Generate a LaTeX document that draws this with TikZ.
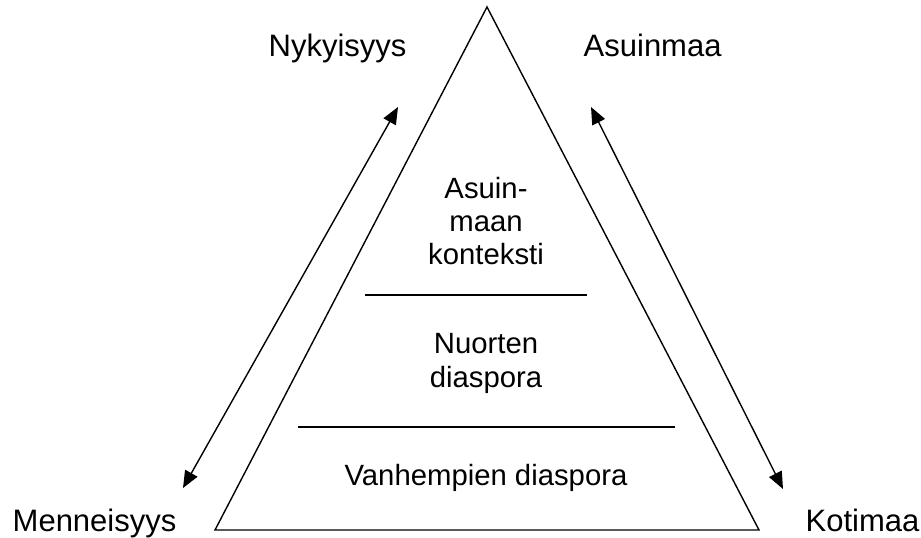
\documentclass[tikz,border=0pt]{standalone}
\usepackage{fontspec}
\setmainfont{Liberation Sans}
\usetikzlibrary{arrows.meta}

\tikzset{
  outer/.style={inner sep=0pt, anchor=base west, font=\fontsize{31}{36}\selectfont},
  inner/.style={inner sep=0pt, align=center, font=\fontsize{29.3}{33}\selectfont},
  both/.style={{Triangle[length=17pt,width=14pt]}-{Triangle[length=17pt,width=14pt]}, line width=1.4pt},
}

\begin{document}
\begin{tikzpicture}[x=1pt,y=-1pt, line width=1.4pt]
    \useasboundingbox (0,0) rectangle (921,538);

    \coordinate (T) at (487,7);
    \coordinate (L) at (215,530);
    \coordinate (R) at (759,530);

    \draw (L) -- (T) -- (R) -- cycle;

    % layers
    \coordinate (u1) at (365,295);
    \coordinate (u2) at (587,295);
    \coordinate (v1) at (298,427);
    \coordinate (v2) at (675,427);
    \draw (u1) -- (u2);
    \draw (v1) -- (v2);

    \node[inner] (top) at (486,221) {Asuin-\\maan\\konteksti};
    \node[inner, font=\fontsize{29.3}{34}\selectfont] (mid) at (486,363) {Nuorten\\diaspora};
    \node[inner, anchor=base] (low) at (486,485) {Vanhempien diaspora};

    % corner labels
    \node[outer] (past) at (12,531) {Menneisyys};
    \node[outer] (now) at (268,56) {Nykyisyys};
    \node[outer] (here) at (583,56) {Asuinmaa};
    \node[outer] (home) at (805,531) {Kotimaa};

    % arrows
    \coordinate (a1) at (183,488);
    \coordinate (a2) at (398,107);
    \coordinate (b1) at (591,107);
    \coordinate (b2) at (783,489);
    \draw[both] (a1) -- (a2);
    \draw[both] (b1) -- (b2);
\end{tikzpicture}
\end{document}
